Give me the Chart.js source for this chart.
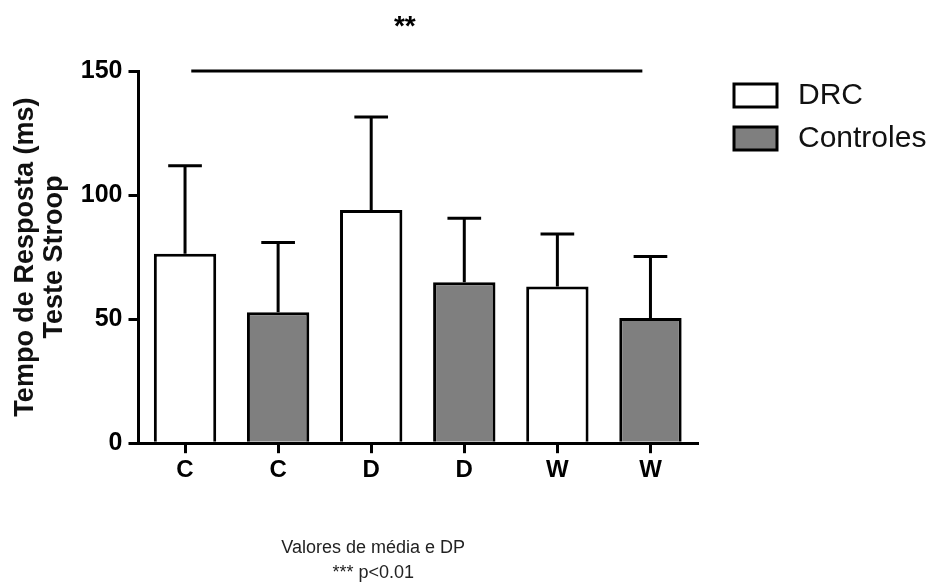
<!DOCTYPE html>
<html lang="pt">
<head>
<meta charset="UTF-8">
<title>Teste Stroop</title>
<script src="https://cdn.jsdelivr.net/npm/chart.js@4.4.1/dist/chart.umd.min.js"></script>
<style>
  html, body { margin: 0; padding: 0; background: #fff; }
  #wrap { width: 928px; height: 585px; position: relative; }
</style>
</head>
<body>
<div id="wrap"><canvas id="stroop"></canvas></div>
<script>
// categorias e valores (média e DP)
const labels = ['C', 'C', 'D', 'D', 'W', 'W'];
const drcMean = [76.3, null, 94.0, null, 63.2, null];
const drcSD = [35.5, null, 37.5, null, 21.1, null];
const ctrlMean = [null, 52.8, null, 64.9, null, 50.5];
const ctrlSD = [null, 28.1, null, 25.8, null, 24.7];
const yTicks = [0, 50, 100, 150];
const sigLevel = 150;
const sigText = '**';
const footerLines = ['Valores de média e DP', '*** p<0.01'];

const FONT = '"Liberation Sans", Arial, sans-serif';
Chart.defaults.font.family = FONT;
Chart.defaults.color = '#000';

// barras de erro (só para cima, com traço)
const errorBars = {
  id: 'errorBars',
  afterDatasetsDraw(chart) {
    const ctx = chart.ctx;
    const y = chart.scales.y;
    const sds = [drcSD, ctrlSD];
    ctx.save();
    ctx.strokeStyle = '#000';
    ctx.lineWidth = 3;
    chart.data.datasets.forEach((ds, di) => {
      const meta = chart.getDatasetMeta(di);
      meta.data.forEach((bar, i) => {
        if (ds.data[i] == null) return;
        const top = y.getPixelForValue(ds.data[i] + sds[di][i]);
        const half = bar.width * 0.27;
        ctx.beginPath();
        ctx.moveTo(bar.x, bar.y);
        ctx.lineTo(bar.x, top);
        ctx.moveTo(bar.x - half, top);
        ctx.lineTo(bar.x + half, top);
        ctx.stroke();
      });
    });
    ctx.restore();
  }
};

// legenda à direita (caixa com borda + texto)
const sideLegend = {
  id: 'sideLegend',
  afterDraw(chart) {
    const ctx = chart.ctx;
    const area = chart.chartArea;
    const bx = area.right + 37;
    let by = area.top + 13;
    ctx.save();
    ctx.font = '30px ' + FONT;
    ctx.textAlign = 'left';
    ctx.textBaseline = 'middle';
    chart.data.datasets.forEach(ds => {
      ctx.fillStyle = ds.backgroundColor;
      ctx.fillRect(bx, by, 43, 23);
      ctx.strokeStyle = '#000';
      ctx.lineWidth = 3;
      ctx.strokeRect(bx, by, 43, 23);
      ctx.fillStyle = '#111';
      ctx.fillText(ds.label, bx + 64, by + 12);
      by += 43;
    });
    ctx.restore();
  }
};

// linha de significância, ** e rodapé
const annotations = {
  id: 'annotations',
  afterDraw(chart) {
    const ctx = chart.ctx;
    const x = chart.scales.x;
    const y = chart.scales.y;
    const bw = chart.getDatasetMeta(0).data[0].width;
    const x0 = x.getPixelForValue(0) + bw * 0.1;
    const x1 = x.getPixelForValue(labels.length - 1) - bw * 0.13;
    const ly = y.getPixelForValue(sigLevel);
    ctx.save();
    ctx.strokeStyle = '#000';
    ctx.lineWidth = 3;
    ctx.beginPath();
    ctx.moveTo(x0, ly);
    ctx.lineTo(x1, ly);
    ctx.stroke();

    ctx.fillStyle = '#000';
    ctx.font = 'bold 28px ' + FONT;
    ctx.textAlign = 'center';
    ctx.textBaseline = 'alphabetic';
    ctx.fillText(sigText, (x0 + x1) / 2 - 12, ly - 36);

    ctx.fillStyle = '#222';
    ctx.font = '18px ' + FONT;
    ctx.textBaseline = 'middle';
    const fx = x.getPixelForValue(2);
    const b = chart.chartArea.bottom;
    ctx.fillText(footerLines[0], fx + 2, b + 105);
    ctx.fillText(footerLines[1], fx + 2, b + 130);
    ctx.restore();
  }
};

new Chart(document.getElementById('stroop'), {
  type: 'bar',
  data: {
    labels: labels,
    datasets: [
      {
        label: 'DRC',
        data: drcMean,
        backgroundColor: '#ffffff',
        borderColor: '#000',
        borderWidth: 3,
        borderSkipped: 'start'
      },
      {
        label: 'Controles',
        data: ctrlMean,
        backgroundColor: '#7f7f7f',
        borderColor: '#000',
        borderWidth: 3,
        borderSkipped: 'start'
      }
    ]
  },
  options: {
    responsive: true,
    maintainAspectRatio: false,
    animation: false,
    layout: { padding: { left: 8, top: 71, right: 231, bottom: 97 } },
    datasets: {
      bar: { grouped: false, categoryPercentage: 1, barPercentage: 0.67 }
    },
    plugins: {
      legend: { display: false },
      tooltip: { enabled: false }
    },
    scales: {
      x: {
        offset: true,
        grid: {
          offset: false,
          drawOnChartArea: false,
          drawTicks: true,
          tickLength: 10,
          lineWidth: 3,
          color: '#000'
        },
        border: { display: true, color: '#000', width: 3, z: 1 },
        ticks: { padding: 3, color: '#000', font: { size: 24, weight: 'bold' } }
      },
      y: {
        min: 0,
        max: 150,
        afterBuildTicks: (axis) => { axis.ticks = yTicks.map(v => ({ value: v })); },
        grid: {
          drawOnChartArea: false,
          drawTicks: true,
          tickLength: 10,
          lineWidth: 3,
          color: '#000'
        },
        border: { display: true, color: '#000', width: 3 },
        ticks: { padding: 6, color: '#000', font: { size: 25, weight: 'bold' } },
        title: {
          display: true,
          text: ['Tempo de Resposta (ms)', 'Teste Stroop'],
          color: '#111',
          font: { size: 27, weight: 'bold', lineHeight: 1.07 },
          padding: { top: 3, bottom: 6 }
        }
      }
    }
  },
  plugins: [errorBars, sideLegend, annotations]
});
</script>
</body>
</html>
